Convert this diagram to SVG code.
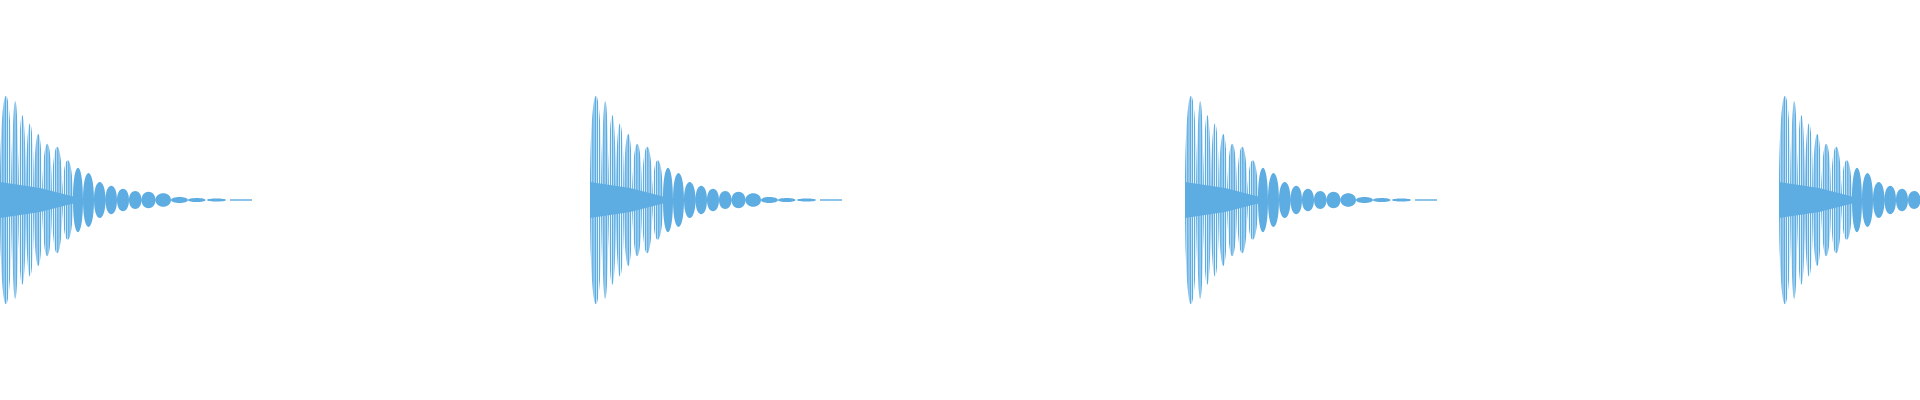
<svg xmlns="http://www.w3.org/2000/svg" width="1920" height="400" viewBox="0 0 1920 400">
<defs>
<pattern id="st" width="2.2" height="400" patternUnits="userSpaceOnUse"><rect width="1.5" height="400" fill="#5dade2"/></pattern>
<g id="burst">
<path fill="url(#st)" d="M0,200C0,61 12,61 12,200C12,339 0,339 0,200Z M12,200C12,68 18.5,68 18.5,200C18.5,332 12,332 12,200Z M18.5,200C18.5,87 26,87 26,200C26,313 18.5,313 18.5,200Z M26,200C26,98 34,98 34,200C34,302 26,302 26,200Z M34,200C34,112 42.5,112 42.5,200C42.5,288 34,288 34,200Z M42.5,200C42.5,125 52,125 52,200C52,275 42.5,275 42.5,200Z M52,200C52,129 62.5,129 62.5,200C62.5,271 52,271 52,200Z M62.5,200C62.5,147 73,147 73,200C73,253 62.5,253 62.5,200Z"/>
<path fill="#5dade2" d="M0,182L40,188L75,197V203L40,212L0,218Z M73,200C73,157 83,157 83,200C83,243 73,243 73,200Z M83,200C83,164 94,164 94,200C94,236 83,236 83,200Z M94,200C94,176 105.5,176 105.5,200C105.5,224 94,224 94,200Z M105.5,200C105.5,181 117,181 117,200C117,219 105.5,219 105.5,200Z M117,200C117,185 129,185 129,200C129,215 117,215 117,200Z M129,200C129,188 141.5,188 141.5,200C141.5,212 129,212 129,200Z M141.5,200C141.5,189 155.5,189 155.5,200C155.5,211 141.5,211 141.5,200Z M155.5,200C155.5,191 171,191 171,200C171,209 155.5,209 155.5,200Z M171,200C171,196 188,196 188,200C188,204 171,204 171,200Z M188,200C188,197.3 205.5,197.3 205.5,200C205.5,202.7 188,202.7 188,200Z M207,200C207,198 226,198 226,200C226,202 207,202 207,200Z"/>
<rect x="230" y="199.3" width="22" height="1.4" fill="#5dade2"/>
</g>
</defs>
<g id="bursts">
<use href="#burst" x="0"/>
<use href="#burst" x="590"/>
<use href="#burst" x="1185"/>
<use href="#burst" x="1779"/>
</g>
</svg>
